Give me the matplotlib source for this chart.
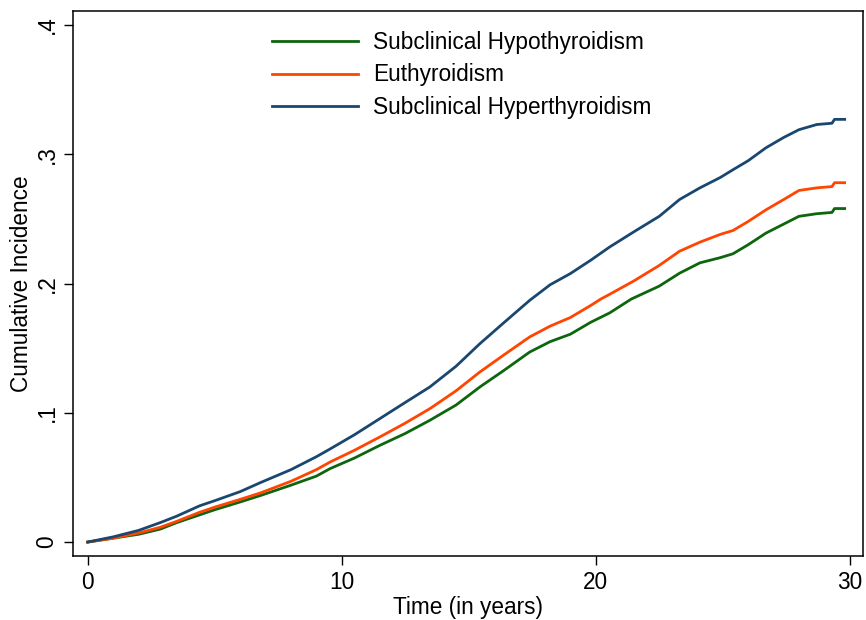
import matplotlib
matplotlib.use("Agg")
import matplotlib.pyplot as plt
import numpy as np

plt.rcParams['font.family'] = ['Liberation Sans', 'DejaVu Sans']

# values
t_hyper = [0, 1, 2, 2.85, 3.5, 4.4, 5, 6, 6.8, 8, 9, 9.54, 10.5, 11.5, 12.5, 13.47, 14.5, 15.44,
           16.4, 17.4, 18.2, 19.0, 19.8, 20.55, 21.5, 22.5, 23.3, 24.1, 24.9, 25.4, 26.0, 26.7,
           27.4, 28.0, 28.7, 29.3, 29.4, 29.8]
v_hyper = [0, 0.004, 0.009, 0.015, 0.020, 0.028, 0.032, 0.039, 0.046, 0.056, 0.066, 0.072, 0.083,
           0.0955, 0.108, 0.120, 0.136, 0.1535, 0.170, 0.187, 0.199, 0.2077, 0.218, 0.2283, 0.240,
           0.252, 0.265, 0.274, 0.282, 0.288, 0.295, 0.305, 0.313, 0.319, 0.323, 0.324, 0.327, 0.327]

t_eu = [0, 1, 2, 2.85, 3.5, 4.4, 5, 6, 6.8, 8, 9, 9.54, 10.5, 11.5, 12.5, 13.47, 14.5, 15.44,
        16.4, 17.4, 18.2, 19.0, 19.8, 20.2, 20.55, 21.5, 22.5, 23.3, 24.1, 24.9, 25.4, 26.0, 26.7,
        27.4, 28.0, 28.7, 29.3, 29.4, 29.8]
v_eu = [0, 0.003, 0.007, 0.0114, 0.016, 0.023, 0.027, 0.033, 0.038, 0.047, 0.056, 0.0619, 0.071,
        0.0813, 0.092, 0.1032, 0.117, 0.1316, 0.145, 0.1587, 0.167, 0.1737, 0.183, 0.188, 0.1917,
        0.202, 0.214, 0.225, 0.232, 0.238, 0.241, 0.248, 0.257, 0.265, 0.272, 0.274, 0.275, 0.278,
        0.278]

t_hypo = [0, 1, 2, 2.85, 3.5, 4.4, 5, 6, 6.8, 8, 9, 9.54, 10.5, 11.5, 12.5, 13.47, 14.5, 15.44,
          16.4, 17.4, 18.2, 19.0, 19.8, 20.55, 21.4, 22.5, 23.3, 24.1, 24.9, 25.4, 26.0, 26.7,
          27.4, 28.0, 28.7, 29.3, 29.4, 29.8]
v_hypo = [0, 0.003, 0.006, 0.010, 0.015, 0.021, 0.025, 0.031, 0.036, 0.044, 0.051, 0.0568, 0.065,
          0.0748, 0.084, 0.0942, 0.106, 0.120, 0.133, 0.147, 0.155, 0.1608, 0.170, 0.1773, 0.188,
          0.198, 0.208, 0.216, 0.220, 0.223, 0.230, 0.239, 0.246, 0.252, 0.254, 0.255, 0.258, 0.258]

x_ticks = [0, 10, 20, 30]
y_ticks = [0, 0.1, 0.2, 0.3, 0.4]
y_ticklabels = ['0', '.1', '.2', '.3', '.4']

fig = plt.figure(figsize=(8.66, 6.2), dpi=100)
ax = fig.add_axes([0.0843, 0.1032, 0.9122, 0.879])

ax.plot(t_hypo, v_hypo, color='#0d660d', lw=2.0, label='Subclinical Hypothyroidism')
ax.plot(t_eu, v_eu, color='#ff4500', lw=2.0, label='Euthyroidism')
ax.plot(t_hyper, v_hyper, color='#1a476f', lw=2.0, label='Subclinical Hyperthyroidism')

ax.set_xlim(-0.58, 30.52)
ax.set_ylim(-0.0108, 0.4108)
ax.set_xticks(x_ticks)
ax.set_yticks(y_ticks)
ax.set_yticklabels(y_ticklabels)
ax.tick_params(axis='both', direction='out', length=6.5, width=1.0, labelsize=16.3, pad=4)
ax.tick_params(axis='y', labelrotation=90)
for lab in ax.get_yticklabels():
    lab.set_va('center')
for s in ax.spines.values():
    s.set_linewidth(1.1)

ax.set_xlabel('Time (in years)', fontsize=16.3, labelpad=2)
ax.set_ylabel('Cumulative Incidence', fontsize=16.3, labelpad=2)

ax.legend(loc='upper left', bbox_to_anchor=(0.232, 0.993), frameon=False, fontsize=16.3,
          handlelength=3.8, handletextpad=0.65, labelspacing=0.43, borderaxespad=0.3)

fig.savefig("out.png", dpi=100)
